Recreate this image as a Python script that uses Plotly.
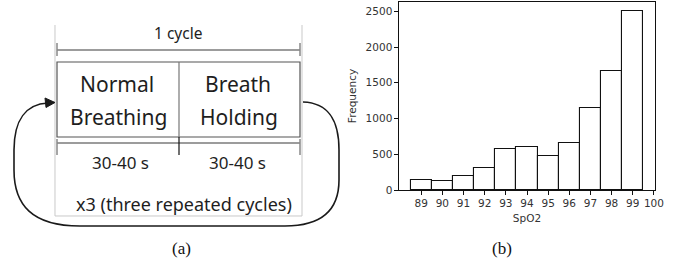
import plotly.graph_objects as go

W, H = 676, 265

# ---- data (histogram b) ----
spo2_bins = [89, 90, 91, 92, 93, 94, 95, 96, 97, 98, 99]
frequency = [145, 125, 190, 305, 580, 595, 480, 660, 1145, 1660, 2510]
x_ticks = [89, 90, 91, 92, 93, 94, 95, 96, 97, 98, 99, 100]
y_ticks = [0, 500, 1000, 1500, 2000, 2500]

# ---- diagram text (a) ----
cycle_label = "1 cycle"
phase_labels = [["Normal", "Breathing"], ["Breath", "Holding"]]
phase_durations = ["30-40 s", "30-40 s"]
repeat_label = "x3 (three repeated cycles)"
panel_labels = ["(a)", "(b)"]


def px(x):
    return x / W


def py(y):
    return 1 - y / H


def pt(x, y):
    return f"{px(x):.5f},{py(y):.5f}"


fig = go.Figure()
fig.add_trace(go.Bar(
    x=spo2_bins, y=frequency, width=1,
    marker=dict(color="white", line=dict(color="#111111", width=1.1)),
    showlegend=False, hoverinfo="skip",
))

shapes = []
DARK = "#3a3a3a"
FAINT = "#c9c9c9"


def line(x0, y0, x1, y1, color=DARK, width=1.2):
    shapes.append(dict(type="line", xref="paper", yref="paper",
                       x0=px(x0), y0=py(y0), x1=px(x1), y1=py(y1),
                       line=dict(color=color, width=width)))


def path(d, color=DARK, width=1.5, fill=None):
    s = dict(type="path", xref="paper", yref="paper", path=d,
             line=dict(color=color, width=width))
    if fill:
        s["fillcolor"] = fill
    shapes.append(s)


# faint text-box frame
path(f"M {pt(55,25)} L {pt(55,216)} L {pt(302,216)} L {pt(302,25)}", color=FAINT, width=1)

# top dimension line
line(57, 50, 300, 50)
line(57, 43, 57, 56, color="#888888", width=1.5)
line(300, 43, 300, 56, color="#888888", width=1.5)

# box
path(f"M {pt(57,62)} L {pt(300,62)} L {pt(300,137)} L {pt(57,137)} Z", color="#555555", width=1.2)
line(179, 62, 179, 137, color="#777777", width=1.2)

# bottom dimension line
line(57, 143, 300, 143)
line(57, 139, 57, 155, color="#888888", width=1.5)
line(300, 139, 300, 155, color="#888888", width=1.5)
line(179, 137, 179, 155, color="#111111", width=1.2)

# curved return arrow
d = (f"M {pt(303,102)} C {pt(330,103)} {pt(339,122)} {pt(339,150)} "
     f"L {pt(339,180)} C {pt(339,210)} {pt(322,226)} {pt(285,226)} "
     f"L {pt(80,226)} C {pt(32,226)} {pt(14,205)} {pt(14,170)} "
     f"L {pt(14,150)} C {pt(14,120)} {pt(26,104)} {pt(48,103)}")
path(d, color="#1a1a1a", width=1.6)
path(f"M {pt(55,102.5)} L {pt(45,98)} L {pt(46,107.5)} Z", color="#1a1a1a", width=1, fill="#1a1a1a")

annotations = []
SANS = "Noto Sans, Open Sans, sans-serif"
SERIF = "Liberation Serif, Times New Roman, serif"


def text(t, x, y, size, family=SANS, color="#1e1e1e"):
    annotations.append(dict(text=t, x=px(x), y=py(y), xref="paper", yref="paper",
                            showarrow=False, xanchor="center", yanchor="middle",
                            font=dict(family=family, size=size, color=color)))


text(cycle_label, 178, 33, 15.5)
text(phase_labels[0][0], 117, 84, 21)
text(phase_labels[0][1], 118, 117, 21)
text(phase_labels[1][0], 238, 84, 21)
text(phase_labels[1][1], 239, 117, 21)
text(phase_durations[0], 120, 162, 17)
text(phase_durations[1], 237, 162, 17)
text(repeat_label, 184, 204, 18)
text(panel_labels[0], 181, 248, 17, family=SERIF, color="#111111")
text(panel_labels[1], 502, 248, 17, family=SERIF, color="#111111")

TICKFONT = dict(family="DejaVu Sans, sans-serif", size=10.5, color="#333333")

fig.update_layout(
    width=W, height=H,
    margin=dict(l=0, r=0, t=0, b=0, autoexpand=False),
    paper_bgcolor="white", plot_bgcolor="white",
    bargap=0,
    shapes=shapes, annotations=annotations,
    xaxis=dict(domain=[399 / W, 655 / W], range=[87.95, 100.05], automargin=False,
               tickmode="array", tickvals=x_ticks, ticktext=[str(v) for v in x_ticks],
               ticks="outside", ticklen=3.5, tickwidth=1, tickcolor="#111111",
               showline=True, linecolor="#111111", linewidth=1.1, mirror=True,
               showgrid=False, zeroline=False, tickfont=TICKFONT,
               title=dict(text="SpO2", font=TICKFONT, standoff=6)),
    yaxis=dict(domain=[py(190), py(2)], range=[0, 2630], automargin=False,
               tickmode="array", tickvals=y_ticks,
               ticks="outside", ticklen=3.5, tickwidth=1, tickcolor="#111111",
               showline=True, linecolor="#111111", linewidth=1.1, mirror=True,
               showgrid=False, zeroline=False, tickfont=TICKFONT,
               title=dict(text="Frequency", font=TICKFONT, standoff=6)),
)

fig.write_html("out.html", config={"displayModeBar": False},
               post_script="document.body.style.margin='0';")
